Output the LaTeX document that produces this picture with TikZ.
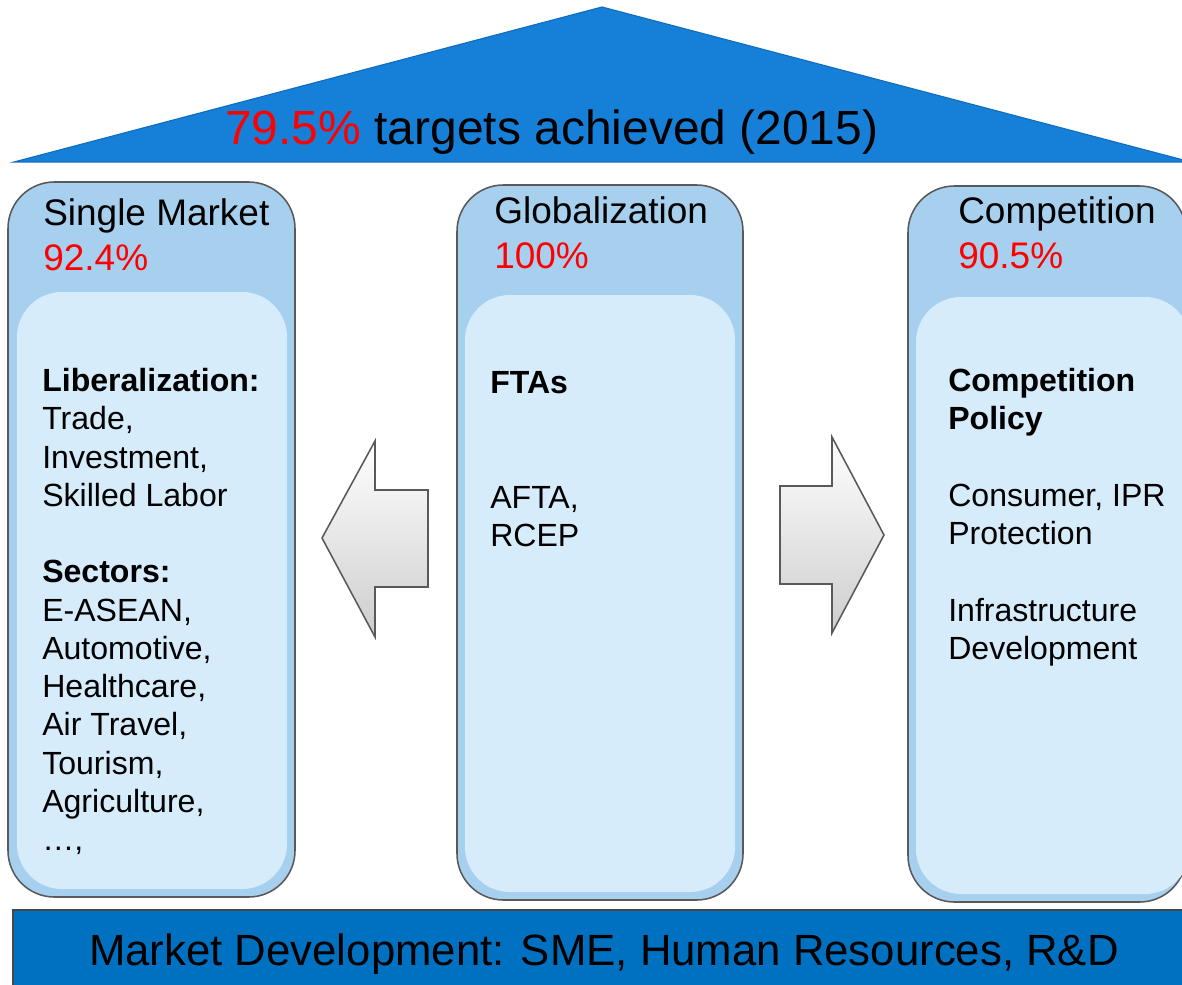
\documentclass[tikz,border=0pt]{standalone}
\usepackage{fontspec}
\setmainfont{Liberation Sans}
\definecolor{roofblue}{RGB}{22,128,216}
\definecolor{roofline}{RGB}{16,108,190}
\definecolor{barblue}{RGB}{0,112,192}
\definecolor{barline}{RGB}{70,70,70}
\definecolor{pillarblue}{RGB}{167,207,238}
\definecolor{panelblue}{RGB}{214,236,250}
\definecolor{pillarline}{RGB}{89,89,89}
\definecolor{arrowgray}{RGB}{205,205,205}
\definecolor{pctred}{RGB}{255,0,0}

\begin{document}
\begin{tikzpicture}[x=0.025cm, y=-0.025cm,
    pillar/.style={draw=pillarline, line width=1.1pt, fill=pillarblue, rounded corners=33pt},
    panel/.style={fill=panelblue, rounded corners=32pt},
    head/.style={anchor=base west, inner sep=0pt, font=\fontsize{26.3pt}{31.3pt}\selectfont},
    rate/.style={head, text=pctred},
    body/.style={anchor=north west, inner sep=0pt, align=left, font=\fontsize{22.8pt}{27.2pt}\selectfont},
    blockarrow/.style={draw=pillarline, line width=1.1pt, top color=white, bottom color=arrowgray}]
    \useasboundingbox (0,0) rectangle (1182,985);
    \clip (0,0) rectangle (1182,985);

    % roof
    \draw[fill=roofblue, draw=roofline, line width=0.8pt] (14,162) -- (602,7) -- (1191,162) -- cycle;
    \node (roof) [anchor=base west, inner sep=0pt, font=\fontsize{34.1pt}{40pt}\selectfont] at (225,145) {\textcolor{pctred}{79.5\%} targets achieved (2015)};

    % pillars
    \draw[pillar] (8,182) rectangle (295,897);
    \fill[panel] (17,292) rectangle (287,889);
    \draw[pillar] (457,185) rectangle (743,900);
    \fill[panel] (465,295) rectangle (735,892);
    \draw[pillar] (908,186) rectangle (1186,902);
    \fill[panel] (916,297) rectangle (1190,894);

    \node (market) [head] at (43,225) {Single Market};
    \node (marketrate) [rate] at (43,270) {92.4\%};
    \node (global) [head] at (494,223) {Globalization};
    \node (globalrate) [rate] at (494,268) {100\%};
    \node (compet) [head] at (958,223) {Competition};
    \node (competrate) [rate] at (958,268) {90.5\%};

    \node (marketbody) [body] at (42,368) {\textbf{Liberalization:}\\Trade,\\Investment,\\Skilled Labor\\[27.2pt]
        \textbf{Sectors:}\\E-ASEAN,\\Automotive,\\Healthcare,\\Air Travel,\\Tourism,\\Agriculture,\\…,};
    \node (globalbody) [body] at (490,371) {\textbf{FTAs}\\[54.4pt]AFTA,\\RCEP};
    \node (competbody) [body] at (948,368) {\textbf{Competition}\\\textbf{Policy}\\[27.2pt]
        Consumer, IPR\\Protection\\[27.2pt]Infrastructure\\Development};

    % arrows
    \draw[blockarrow] (322,538) -- (375,441) -- (375,490) -- (428,490) -- (428,587) -- (375,587) -- (375,637) -- cycle;
    \draw[blockarrow] (884,535) -- (832,437) -- (832,486) -- (780,486) -- (780,584) -- (832,584) -- (832,633) -- cycle;

    % base
    \draw[fill=barblue, draw=barline, line width=1pt] (13,910) rectangle (1195,995);
    \node (base) [anchor=base, inner sep=0pt, font=\fontsize{31.1pt}{36pt}\selectfont] at (604,965) {Market Development: SME, Human Resources, R\&D};
\end{tikzpicture}
\end{document}
